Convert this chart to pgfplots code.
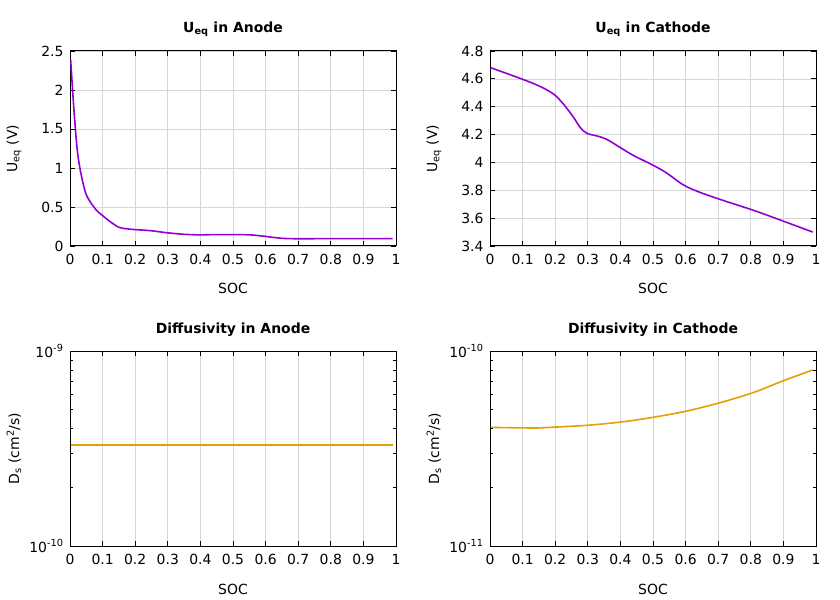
\documentclass[border=0pt]{standalone}
\usepackage{fontspec}
\setmainfont{DejaVu Sans}
\usepackage{pgfplots}
\pgfplotsset{compat=1.18}

\definecolor{ueqcol}{HTML}{9400D3}
\definecolor{dscol}{HTML}{E69F00}
\definecolor{gridcol}{HTML}{D6D6D6}

\pgfplotsset{
  gp/.style={
    scale only axis, width=326bp, height=195bp,
    xmin=0, xmax=1, xtick={0,0.1,...,1.0001},
    axis line style={line width=1bp},
    every tick/.style={black, line width=0.8bp},
    major tick length=5bp, minor tick length=3bp,
    tick align=inside, tick pos=both,
    xmajorgrids,
    grid style={gridcol, line width=0.7bp},
    font=\fontsize{14}{16}\selectfont,
    /pgf/number format/assume math mode=true,
    xticklabel style={yshift=-5bp},
    yticklabel style={xshift=-3bp},
    title style={at={(axis description cs:0.5,1.08)}, anchor=center, font=\fontsize{14}{16}\selectfont\bfseries},
    xlabel style={at={(axis description cs:0.5,-0.22)}, anchor=center},
    ylabel style={at={(axis description cs:-0.172,0.5)}, anchor=center},
    xlabel={SOC},
  },
}

\begin{document}
\begin{tikzpicture}
\useasboundingbox (0,0) rectangle (840bp,600bp);

% Ueq anode
\begin{axis}[gp, at={(70bp,354bp)}, anchor=south west,
  ymin=0, ymax=2.5, ytick={0,0.5,...,2.5}, ymajorgrids,
  title={U\textsubscript{eq} in Anode}, ylabel={U\textsubscript{eq} (V)}]
\addplot[ueqcol, line width=1.6bp, smooth] coordinates {
(0.002,2.39) (0.012,1.75) (0.022,1.24) (0.033,0.94) (0.048,0.68)
(0.063,0.56) (0.083,0.45) (0.10,0.39) (0.124,0.31) (0.15,0.24)
(0.175,0.22) (0.20,0.21) (0.246,0.197) (0.297,0.17) (0.35,0.15)
(0.40,0.142) (0.43,0.145) (0.54,0.145) (0.59,0.128) (0.63,0.107)
(0.675,0.094) (0.80,0.094) (0.99,0.094)
};
\end{axis}

% Ueq cathode
\begin{axis}[gp, at={(490bp,354bp)}, anchor=south west,
  ymin=3.4, ymax=4.8, ytick={3.4,3.6,...,4.81}, ymajorgrids,
  title={U\textsubscript{eq} in Cathode}, ylabel={U\textsubscript{eq} (V)}]
\addplot[ueqcol, line width=1.6bp, smooth] coordinates {
(0.002,4.68) (0.10,4.597) (0.155,4.544) (0.196,4.489) (0.226,4.417)
(0.257,4.321) (0.277,4.25) (0.297,4.209) (0.328,4.19) (0.358,4.166)
(0.40,4.106) (0.44,4.05) (0.50,3.98) (0.54,3.927) (0.59,3.843)
(0.633,3.795) (0.705,3.735) (0.806,3.658) (0.898,3.58) (0.99,3.50)
};
\end{axis}

% Ds anode
\begin{axis}[gp, at={(70bp,54bp)}, anchor=south west, ymode=log,
  ymin=1e-10, ymax=1e-9, ytick={1e-10,1e-9},
  yticklabels={10\textsuperscript{-10},10\textsuperscript{-9}},
  minor ytick={2e-10,3e-10,4e-10,5e-10,6e-10,7e-10,8e-10,9e-10},
  title={Diffusivity in Anode}, ylabel={D\textsubscript{s} (cm\textsuperscript{2}/s)}]
\addplot[dscol, line width=1.6bp] coordinates {
(0.002,3.3e-10) (0.99,3.3e-10)
};
\end{axis}

% Ds cathode
\begin{axis}[gp, at={(490bp,54bp)}, anchor=south west, ymode=log,
  ymin=1e-11, ymax=1e-10, ytick={1e-11,1e-10},
  yticklabels={10\textsuperscript{-11},10\textsuperscript{-10}},
  minor ytick={2e-11,3e-11,4e-11,5e-11,6e-11,7e-11,8e-11,9e-11},
  title={Diffusivity in Cathode}, ylabel={D\textsubscript{s} (cm\textsuperscript{2}/s)}]
\addplot[dscol, line width=1.6bp, smooth] coordinates {
(0.002,4.06e-11) (0.134,4.03e-11) (0.196,4.07e-11) (0.297,4.16e-11)
(0.40,4.32e-11) (0.50,4.57e-11) (0.603,4.92e-11) (0.705,5.43e-11)
(0.806,6.11e-11) (0.898,7.02e-11) (0.99,8.0e-11)
};
\end{axis}
\end{tikzpicture}
\end{document}
